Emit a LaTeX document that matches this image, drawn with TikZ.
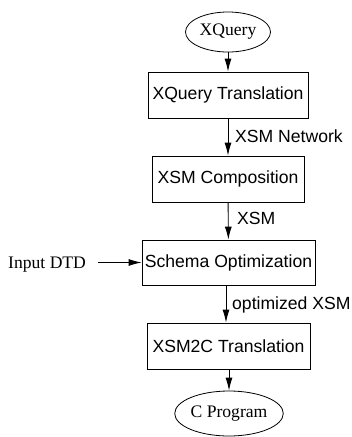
\documentclass[tikz,border=0pt]{standalone}
\usepackage{fontspec}
\setmainfont{Liberation Serif}
\setsansfont{Liberation Sans}
\usetikzlibrary{shapes.geometric,arrows.meta}
\begin{document}
\begin{tikzpicture}[x=1pt,y=-1pt,
  proc/.style={draw,line width=0.8pt,inner sep=0pt,minimum height=46pt,font=\sffamily\fontsize{17.6}{20}\selectfont},
  term/.style={draw,ellipse,line width=0.8pt,inner sep=0pt,font=\rmfamily\fontsize{17.6}{20}\selectfont},
  lbl/.style={anchor=base west,inner sep=0pt,font=\sffamily\fontsize{17.6}{20}\selectfont},
  flow/.style={line width=0.9pt,-{Latex[length=13pt,width=7pt]}}]
\useasboundingbox (0,0) rectangle (352,437);
\node[term,minimum width=85pt,minimum height=40pt] (xq) at (228,32) {XQuery};
\node[proc,minimum width=160pt] (xt) at (228,95) {XQuery Translation};
\node[proc,minimum width=152pt] (xc) at (228,179) {XSM Composition};
\node[proc,minimum width=173pt,minimum height=45pt] (so) at (228.5,262.5) {Schema Optimization};
\node[proc,minimum width=163pt] (x2c) at (228.5,346) {XSM2C Translation};
\node[term,minimum width=106pt,minimum height=45pt] (cp) at (229,413.5) {C Program};
\node[anchor=base west,inner sep=0pt,font=\rmfamily\fontsize{17.6}{20}\selectfont] (dtd) at (8,268) {Input DTD};
\node[lbl] (l1) at (235,142) {XSM Network};
\node[lbl] (l2) at (237,224) {XSM};
\node[lbl] (l3) at (232,309) {optimized XSM};
\draw[flow] (xq) -- (xt);
\draw[flow] (xt) -- (xc);
\draw[flow] (xc) -- (so);
\draw[flow] ([xshift=-2.5pt]so.south) -- ([xshift=-2.5pt]x2c.north);
\draw[flow] (x2c.south -| cp.north) -- (cp.north);
\draw[flow,shorten <=12pt] (dtd.east |- so.west) -- (so.west);
\end{tikzpicture}
\end{document}
